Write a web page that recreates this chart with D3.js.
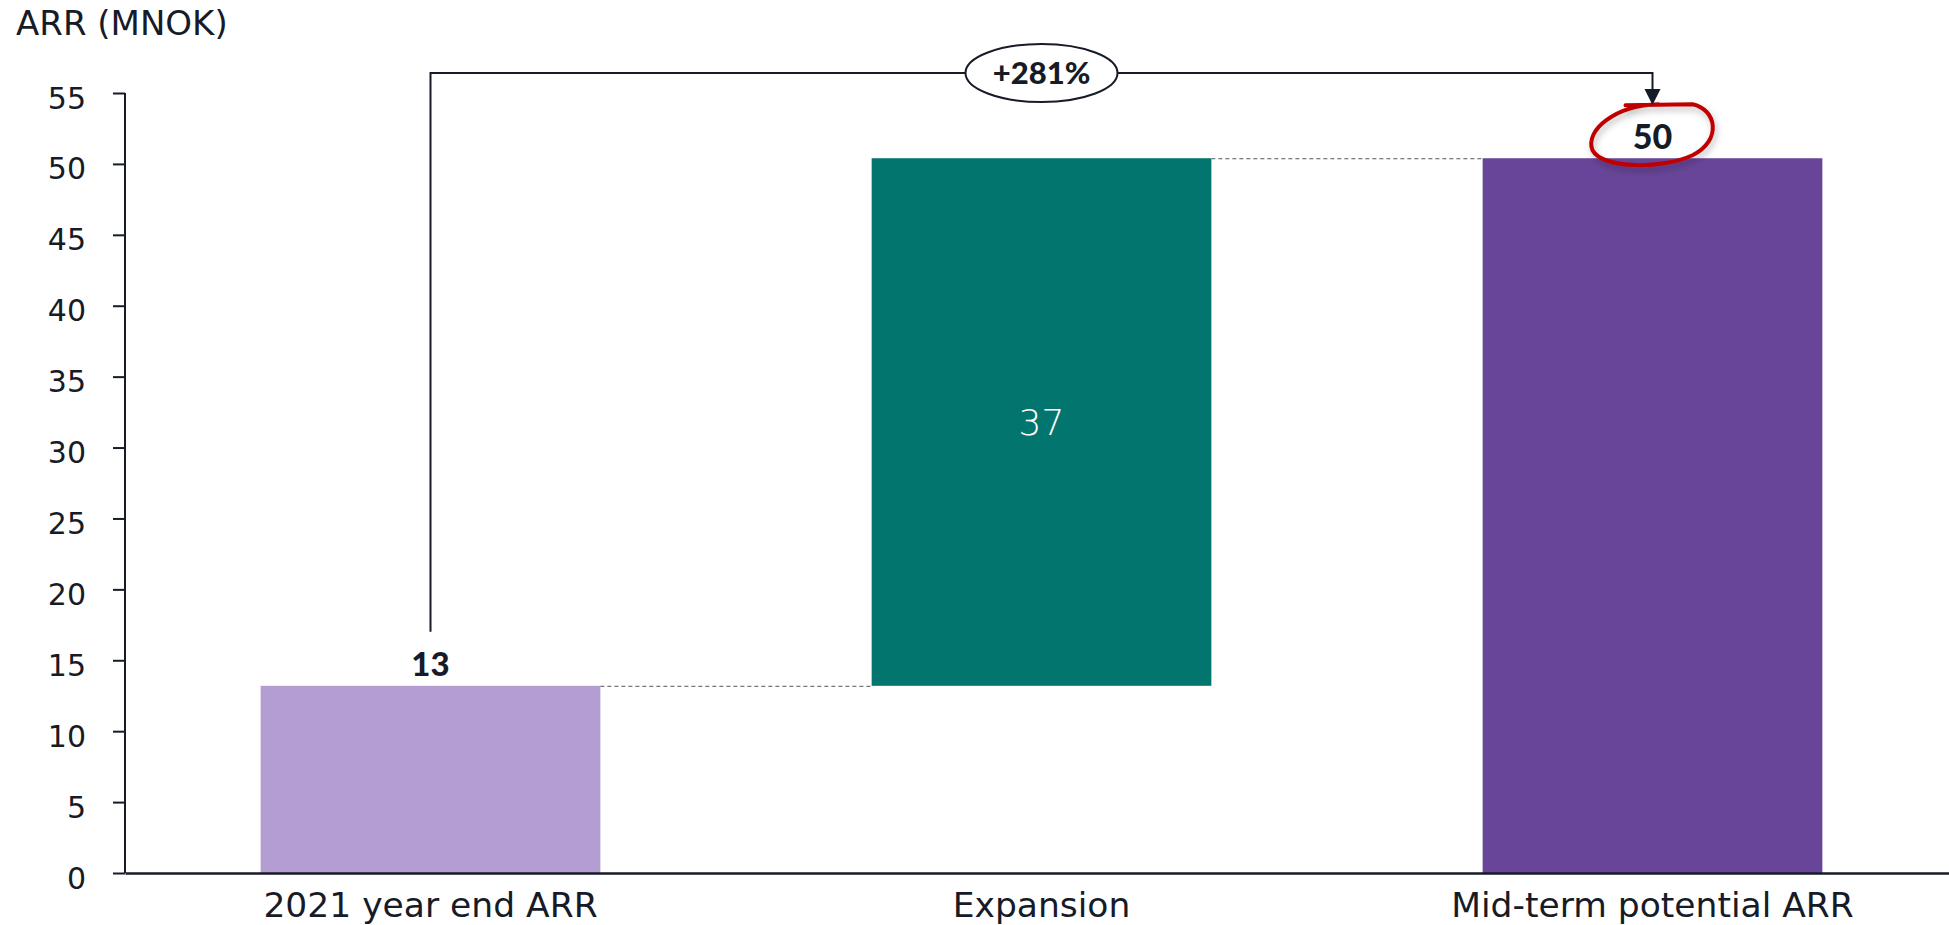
<!DOCTYPE html>
<html>
<head>
<meta charset="utf-8">
<script src="https://cdn.jsdelivr.net/npm/d3@7"></script>
<style>
  body { margin: 0; background: #fff; }
  text { font-family: "DejaVu Sans", sans-serif; fill: #161b27; }
  .bold { font-family: Lato, sans-serif; font-weight: 900; }
</style>
</head>
<body>
<div id="chart"></div>
<script>
// chart data
var categories = ["2021 year end ARR", "Expansion", "Mid-term potential ARR"];
var barStart = [0, 13.2, 0];
var barEnd = [13.2, 50.4, 50.4];
var barLabels = ["13", "37", "50"];
var barColors = ["#b39dd1", "#03756f", "#684598"];
var yTicks = [0, 5, 10, 15, 20, 25, 30, 35, 40, 45, 50, 55];
var growthLabel = "+281%";
var yTitle = "ARR (MNOK)";

var svgWidth = 1949;
var svgHeight = 925;
var ink = "#161b27";

var svg = d3.select("#chart")
  .append("svg")
  .attr("width", svgWidth)
  .attr("height", svgHeight);

var bars = categories.map(function(c, i) {
  return { cat: c, y0: barStart[i], y1: barEnd[i], label: barLabels[i], color: barColors[i] };
});

// scales
var x = d3.scaleBand()
  .domain(categories)
  .range([125, 1958])
  .paddingInner(0.444)
  .paddingOuter(0.222);

var y = d3.scaleLinear()
  .domain([0, 55])
  .range([873, 93]);

// drop shadow for the hand drawn circle
var defs = svg.append("defs");
var shadow = defs.append("filter").attr("id", "shadow")
  .attr("x", "-20%").attr("y", "-20%").attr("width", "140%").attr("height", "160%");
shadow.append("feDropShadow")
  .attr("dx", 2).attr("dy", 4).attr("stdDeviation", 3)
  .attr("flood-color", "#000").attr("flood-opacity", 0.25);

// bars
svg.selectAll("rect.bar")
  .data(bars)
  .enter()
  .append("rect")
  .attr("class", "bar")
  .attr("x", d => x(d.cat))
  .attr("width", x.bandwidth())
  .attr("y", d => y(d.y1))
  .attr("height", d => y(d.y0) - y(d.y1))
  .attr("fill", d => d.color);

// dashed connectors between bars
for (var i = 0; i < bars.length - 1; i++) {
  var level = bars[i].y1;
  svg.append("line")
    .attr("x1", x(categories[i]) + x.bandwidth())
    .attr("x2", x(categories[i + 1]))
    .attr("y1", y(level) + 0.5)
    .attr("y2", y(level) + 0.5)
    .attr("stroke", "#555")
    .attr("stroke-width", 1)
    .attr("stroke-dasharray", "4,3");
}

// y axis
var leftAxis = d3.axisLeft(y)
  .tickValues(yTicks)
  .tickSize(12)
  .tickPadding(27);

var yAxis = svg.append("g")
  .attr("transform", "translate(125,0)")
  .call(leftAxis);
yAxis.select(".domain").remove();
yAxis.append("line")
  .attr("x1", 0).attr("x2", 0)
  .attr("y1", y(55)).attr("y2", y(0))
  .attr("stroke", ink).attr("stroke-width", 2);
yAxis.selectAll(".tick line").attr("stroke", ink).attr("stroke-width", 2);
yAxis.selectAll(".tick text")
  .attr("dy", "0.5em")
  .style("font-family", "'DejaVu Sans', sans-serif")
  .style("font-size", "30px")
  .attr("fill", ink);

// x axis
var bottomAxis = d3.axisBottom(x).tickSize(0).tickPadding(20);
var xAxis = svg.append("g")
  .attr("transform", "translate(0," + y(0) + ")")
  .call(bottomAxis);
xAxis.select(".domain").attr("stroke", ink).attr("stroke-width", 2.5);
xAxis.selectAll(".tick text")
  .style("font-family", "'DejaVu Sans', sans-serif")
  .style("font-size", "34.5px")
  .attr("fill", ink);

// y title
svg.append("text")
  .attr("x", 16)
  .attr("y", 35)
  .style("font-size", "34px")
  .text(yTitle);

// value labels
svg.append("text")
  .attr("class", "bold")
  .attr("x", x(categories[0]) + x.bandwidth() / 2)
  .attr("y", y(barEnd[0]) - 10)
  .attr("text-anchor", "middle")
  .style("font-size", "33px")
  .text(barLabels[0]);

svg.append("text")
  .attr("x", x(categories[1]) + x.bandwidth() / 2)
  .attr("y", (y(barStart[1]) + y(barEnd[1])) / 2)
  .attr("dy", "0.36em")
  .attr("text-anchor", "middle")
  .style("font-size", "36px")
  .style("font-weight", 200)
  .style("fill", "#fff")
  .text(barLabels[1]);

var endX = x(categories[2]) + x.bandwidth() / 2;
svg.append("text")
  .attr("class", "bold")
  .attr("x", endX)
  .attr("y", y(barEnd[2]) - 9)
  .attr("text-anchor", "middle")
  .style("font-size", "34px")
  .text(barLabels[2]);

// hand drawn red circle round the end value
var cy = y(barEnd[2]) - 22;
var circlePath = d3.path();
circlePath.moveTo(endX - 27, cy - 31);
circlePath.lineTo(endX + 40, cy - 32);
circlePath.bezierCurveTo(endX + 64, cy - 27, endX + 70, cy + 4, endX + 40, cy + 19);
circlePath.bezierCurveTo(endX + 10, cy + 33, endX - 50, cy + 33, endX - 60, cy + 14);
circlePath.bezierCurveTo(endX - 68, cy - 6, endX - 37, cy - 31, endX + 6, cy - 32);
svg.append("path")
  .attr("d", circlePath.toString())
  .attr("fill", "none")
  .attr("stroke", "#c00000")
  .attr("stroke-width", 4)
  .attr("stroke-linecap", "round")
  .attr("filter", "url(#shadow)");

// growth bracket with arrow
var startX = x(categories[0]) + x.bandwidth() / 2;
var topY = 73;
var bracket = d3.path();
bracket.moveTo(startX, y(barEnd[0]) - 54);
bracket.lineTo(startX, topY);
bracket.lineTo(endX, topY);
bracket.lineTo(endX, topY + 17);
svg.append("path")
  .attr("d", bracket.toString())
  .attr("fill", "none")
  .attr("stroke", ink)
  .attr("stroke-width", 2);

svg.append("path")
  .attr("d", d3.line()([[endX - 8, topY + 16], [endX + 8, topY + 16], [endX, topY + 32]]) + "Z")
  .attr("fill", ink);

var midX = x(categories[1]) + x.bandwidth() / 2;
svg.append("ellipse")
  .attr("cx", midX)
  .attr("cy", topY)
  .attr("rx", 76)
  .attr("ry", 29)
  .attr("fill", "#fff")
  .attr("stroke", ink)
  .attr("stroke-width", 2);

svg.append("text")
  .attr("class", "bold")
  .attr("x", midX)
  .attr("y", topY)
  .attr("dy", "0.36em")
  .attr("text-anchor", "middle")
  .style("font-size", "31px")
  .text(growthLabel);
</script>
</body>
</html>
